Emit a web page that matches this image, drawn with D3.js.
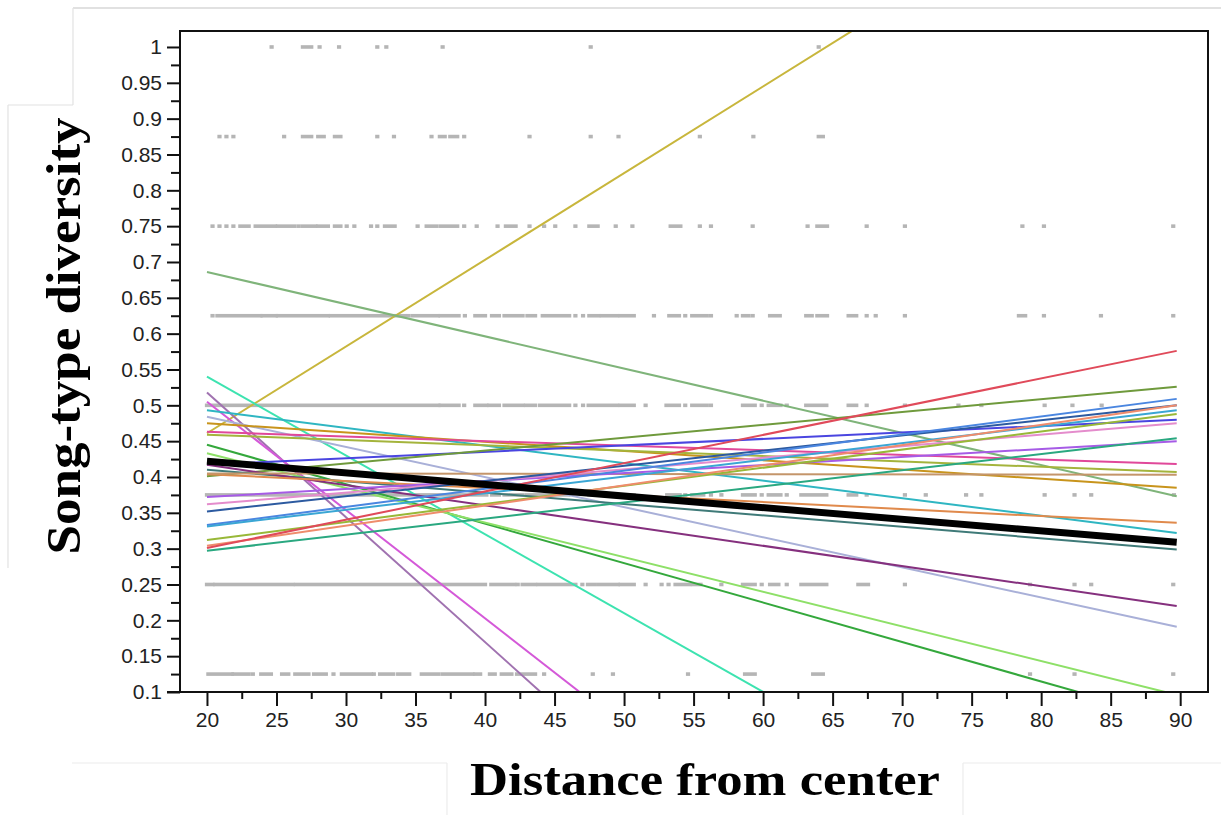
<!DOCTYPE html>
<html>
<head>
<meta charset="utf-8">
<script src="https://cdn.jsdelivr.net/npm/d3@7"></script>
<style>
  body { margin: 0; background: #fff; }
  .tick text { font-family: "Liberation Sans", Arial, Helvetica, sans-serif; fill: #222; }
  .axisTitle { font-family: "Liberation Serif", "DejaVu Serif", serif; font-weight: bold; fill: #000; }
</style>
</head>
<body>
<div id="chart"></div>
<script>
// Canvas size
var svgWidth = 1221;
var svgHeight = 815;

// Plot frame (pixels)
var plot = { left: 180, right: 1208, top: 31, bottom: 692 };

// Axis ticks
var xTicks = [20, 25, 30, 35, 40, 45, 50, 55, 60, 65, 70, 75, 80, 85, 90];
var xMinorTicks = [22.5, 27.5, 32.5, 37.5, 42.5, 47.5, 52.5, 57.5, 62.5, 67.5, 72.5, 77.5, 82.5, 87.5];
var yTicks = [0.1, 0.15, 0.2, 0.25, 0.3, 0.35, 0.4, 0.45, 0.5, 0.55, 0.6, 0.65, 0.7, 0.75, 0.8, 0.85, 0.9, 0.95, 1];
var yMinorTicks = [0.125, 0.175, 0.225, 0.275, 0.325, 0.375, 0.425, 0.475, 0.525, 0.575, 0.625, 0.675, 0.725, 0.775, 0.825, 0.875, 0.925, 0.975, 1.025];

// Observed song-type diversity values (gray points), as runs of [from, to] distance
var levels = [1, 0.875, 0.75, 0.625, 0.5, 0.375, 0.25, 0.125];
var pts100 = [[24.65,24.65],[26.9,27.5],[28.1,28.1],[29.5,29.5],[32.25,32.25],[32.9,32.9],[36.95,36.95],[47.6,47.6],[64.0,64.0]];
var pts875 = [[20.9,20.9],[21.4,21.4],[21.9,21.9],[25.55,25.55],[26.9,27.5],[28.0,28.4],[29.2,29.6],[32.25,32.25],[33.45,33.45],
  [36.15,36.15],[36.75,37.1],[37.5,38.0],[38.5,38.5],[43.2,43.2],[47.6,47.6],[49.6,49.6],[55.45,55.45],[59.3,59.3],[64.0,64.3]];
var pts750 = [[20.4,20.4],[20.9,20.9],[21.4,21.4],[21.9,21.9],[22.4,23.0],[23.5,24.9],[25.1,26.3],[26.6,26.6],[26.9,27.8],[28.0,28.7],
  [29.2,29.6],[30.05,30.05],[30.6,30.6],[31.8,31.8],[32.25,32.25],[32.8,33.5],[35.15,35.15],[35.8,36.5],[36.8,38.0],[38.5,38.5],
  [39.4,39.4],[40.9,40.9],[41.5,42.2],[43.2,43.2],[44.25,44.25],[45.05,45.05],[46.5,46.5],[47.5,48.1],[49.4,49.4],[50.6,50.6],
  [53.35,54.05],[55.45,55.45],[56.25,56.25],[59.25,59.25],[63.2,63.2],[63.9,64.6],[67.45,67.45],[70.2,70.2],[78.65,78.65],[80.2,80.2],[89.5,89.5]];
var pts625 = [[20.4,20.4],[20.75,23.85],[24.0,24.95],[25.1,28.7],[28.9,34.25],[34.5,34.5],[34.8,36.6],[36.8,38.1],[38.55,38.55],
  [39.3,40.0],[40.5,41.0],[41.4,42.7],[43.05,43.6],[44.15,46.05],[46.5,46.5],[47.05,47.05],[47.5,48.15],[48.4,49.5],[49.75,50.7],
  [52.15,52.15],[53.25,53.95],[54.4,54.4],[54.9,55.95],[56.25,56.25],[58.1,58.1],[58.55,58.95],[59.25,59.25],[60.5,61.2],
  [63.1,63.5],[63.9,64.6],[66.15,66.7],[67.45,67.45],[68.1,68.1],[70.2,70.2],[78.4,78.85],[80.2,80.2],[84.3,84.3],[89.5,89.5]];
var pts500 = [[20.0,36.65],[36.8,38.1],[38.5,38.5],[39.3,40.1],[40.3,41.0],[41.4,42.7],[42.95,43.6],[43.95,46.05],[46.5,46.5],
  [47.05,47.05],[47.45,49.5],[49.75,50.7],[51.55,51.55],[53.05,53.95],[54.4,54.4],[54.9,55.95],[56.25,56.25],[58.55,59.4],
  [59.9,59.9],[60.4,61.25],[61.7,61.7],[63.1,64.55],[66.15,66.7],[67.45,67.45],[70.2,70.2],[74.05,74.05],[75.7,75.7],
  [80.25,80.25],[82.25,82.25],[84.35,84.35]];
var pts375 = [[20.0,40.1],[40.5,41.0],[41.4,42.7],[43.0,46.0],[47.5,49.5],[49.8,50.7],[53.1,54.0],[54.4,54.4],[54.9,55.7],
  [56.25,56.25],[57.0,57.0],[58.55,59.4],[59.9,59.9],[60.4,61.25],[61.7,61.7],[62.75,64.55],[66.15,66.7],[67.45,67.45],
  [70.2,70.2],[71.7,71.7],[74.6,74.6],[75.7,75.7],[80.25,80.25],[82.4,82.4],[83.6,83.6],[89.55,89.55]];
var pts250 = [[20.0,20.4],[20.6,26.15],[26.4,40.0],[40.45,42.1],[42.35,42.35],[42.7,43.6],[43.85,46.5],[47.0,47.0],[47.4,47.9],
  [48.2,49.55],[49.75,50.7],[51.55,51.55],[52.7,52.7],[53.2,53.2],[53.7,54.7],[54.95,55.5],[57.0,57.0],[58.55,59.4],[59.9,59.9],
  [60.5,61.1],[61.7,61.7],[62.75,64.55],[66.85,67.55],[70.2,70.2],[79.2,79.2],[82.4,82.4],[83.6,83.6],[89.5,89.5]];
var pts125 = [[20.1,21.8],[21.9,23.0],[23.3,23.3],[23.9,24.6],[25.4,25.85],[26.35,27.3],[27.7,28.55],[29.1,29.1],[29.7,31.8],
  [32.0,32.0],[32.45,33.4],[33.75,34.55],[35.45,36.65],[36.95,39.1],[39.3,39.65],[40.35,40.7],[41.2,41.9],[42.3,43.6],
  [44.25,44.25],[47.75,47.75],[49.2,49.2],[54.6,54.6],[58.7,59.4],[63.6,64.3],[79.2,79.2],[82.4,82.4],[89.5,89.5]];
var pointRows = [pts100, pts875, pts750, pts625, pts500, pts375, pts250, pts125];

// Fitted lines: value at the first and last distance
var lineFrom = 20;
var lineTo = 89.75;
var lineStart = [0.461, 0.686, 0.540, 0.518, 0.505, 0.493, 0.484, 0.475, 0.463, 0.459, 0.445, 0.433,
  0.417, 0.401, 0.410, 0.417, 0.404, 0.405, 0.372, 0.362, 0.352, 0.333, 0.331, 0.312, 0.304, 0.301, 0.297, 0.422];
var lineEnd = [1.305, 0.373, -0.227, -0.697, -0.549, 0.322, 0.191, 0.385, 0.418, 0.407, 0.061, 0.096,
  0.480, 0.526, 0.299, 0.220, 0.336, 0.403, 0.450, 0.475, 0.500, 0.509, 0.493, 0.488, 0.500, 0.576, 0.454, 0.309];
var lineColor = ["#c8b63c", "#7fb47a", "#3de3b0", "#a072b0", "#d459d8", "#2fb6c2", "#a9b0d8", "#c8941c", "#e0489a", "#a4b43c", "#34a83c", "#8ee068",
  "#4a45e0", "#6f9a3c", "#3f7a78", "#85307e", "#e08a4c", "#c4956a", "#a65be6", "#e48ccc", "#2c5aa0", "#4a86e0", "#3aa6d4", "#98b838", "#ef8c6c", "#e04a5a", "#2aa880", "#000000"];

var svg = d3.select("#chart")
  .append("svg")
  .attr("width", svgWidth)
  .attr("height", svgHeight)
  .style("background", "#fff");

// Faint frame lines of the pasted figure
var frameLines = [
  [73, 8, 1221, 8, "#c4c4c4"], [73, 8, 73, 105, "#e2e2e2"], [8, 105, 73, 105, "#e2e2e2"], [8, 105, 8, 568, "#e2e2e2"],
  [72, 763, 447, 763, "#ececec"], [447, 763, 447, 815, "#ececec"], [963, 763, 1221, 763, "#ececec"], [963, 763, 963, 815, "#ececec"]
];
svg.selectAll("line.frame")
  .data(frameLines)
  .enter()
  .append("line")
  .attr("class", "frame")
  .attr("x1", d => d[0]).attr("y1", d => d[1])
  .attr("x2", d => d[2]).attr("y2", d => d[3])
  .attr("stroke", d => d[4])
  .attr("stroke-width", 1.2);

// Scales
var xScale = d3.scaleLinear()
  .domain([18.06, 92.0])
  .range([plot.left, plot.right]);
var yScale = d3.scaleLinear()
  .domain([0.1, 1.0223])
  .range([plot.bottom, plot.top]);

svg.append("clipPath")
  .attr("id", "plotClip")
  .append("rect")
  .attr("x", plot.left)
  .attr("y", plot.top)
  .attr("width", plot.right - plot.left)
  .attr("height", plot.bottom - plot.top);

// Gray points
var pointGroup = svg.append("g").attr("clip-path", "url(#plotClip)");
pointRows.forEach(function(row, i) {
  pointGroup.selectAll("rect.lvl" + i)
    .data(row)
    .enter()
    .append("rect")
    .attr("class", "lvl" + i)
    .attr("x", d => xScale(d[0]) - 2.1)
    .attr("y", yScale(levels[i]) - 1.8)
    .attr("width", d => xScale(d[1]) - xScale(d[0]) + 4.2)
    .attr("height", 3.6)
    .attr("fill", "#b5b5b5");
});

// Fitted lines
var lineGroup = svg.append("g").attr("clip-path", "url(#plotClip)");
lineGroup.selectAll("line.fit")
  .data(lineStart)
  .enter()
  .append("line")
  .attr("class", "fit")
  .attr("x1", xScale(lineFrom))
  .attr("y1", d => yScale(d))
  .attr("x2", xScale(lineTo))
  .attr("y2", (d, i) => yScale(lineEnd[i]))
  .attr("stroke", (d, i) => lineColor[i])
  .attr("stroke-width", (d, i) => i === lineStart.length - 1 ? 7 : 2);

// Frame
svg.append("rect")
  .attr("x", plot.left)
  .attr("y", plot.top)
  .attr("width", plot.right - plot.left)
  .attr("height", plot.bottom - plot.top)
  .attr("fill", "none")
  .attr("stroke", "#111")
  .attr("stroke-width", 2);

// X axis
var xAxisG = svg.append("g")
  .attr("transform", `translate(0, ${plot.bottom})`)
  .call(d3.axisBottom(xScale).tickValues(xTicks).tickSize(14).tickPadding(6).tickFormat(d => d));
svg.append("g")
  .attr("transform", `translate(0, ${plot.bottom})`)
  .call(d3.axisBottom(xScale).tickValues(xMinorTicks).tickSize(7).tickFormat(""));

// Y axis
var yAxisG = svg.append("g")
  .attr("transform", `translate(${plot.left}, 0)`)
  .call(d3.axisLeft(yScale).tickValues(yTicks).tickSize(13).tickPadding(5).tickFormat(d => d));
svg.append("g")
  .attr("transform", `translate(${plot.left}, 0)`)
  .call(d3.axisLeft(yScale).tickValues(yMinorTicks.filter(v => v < 1.0223)).tickSize(9).tickFormat(""));

svg.selectAll(".domain").remove();
svg.selectAll(".tick line").attr("stroke", "#111").attr("stroke-width", 2);
xAxisG.selectAll(".tick text").style("font-size", "21px").attr("fill", "#222");
yAxisG.selectAll(".tick text").style("font-size", "21px").attr("fill", "#222");

// Bottom axis line extends under the 0.1 tick
svg.append("line")
  .attr("x1", plot.left - 13).attr("x2", plot.left)
  .attr("y1", plot.bottom).attr("y2", plot.bottom)
  .attr("stroke", "#111").attr("stroke-width", 2);

// Axis titles
svg.append("text")
  .attr("class", "axisTitle")
  .attr("x", 705)
  .attr("y", 795)
  .attr("text-anchor", "middle")
  .attr("textLength", 470)
  .attr("lengthAdjust", "spacingAndGlyphs")
  .style("font-size", "46px")
  .text("Distance from center");

svg.append("text")
  .attr("class", "axisTitle")
  .attr("transform", "translate(80, 336) rotate(-90)")
  .attr("text-anchor", "middle")
  .attr("textLength", 437)
  .attr("lengthAdjust", "spacingAndGlyphs")
  .style("font-size", "48px")
  .text("Song-type diversity");
</script>
</body>
</html>
